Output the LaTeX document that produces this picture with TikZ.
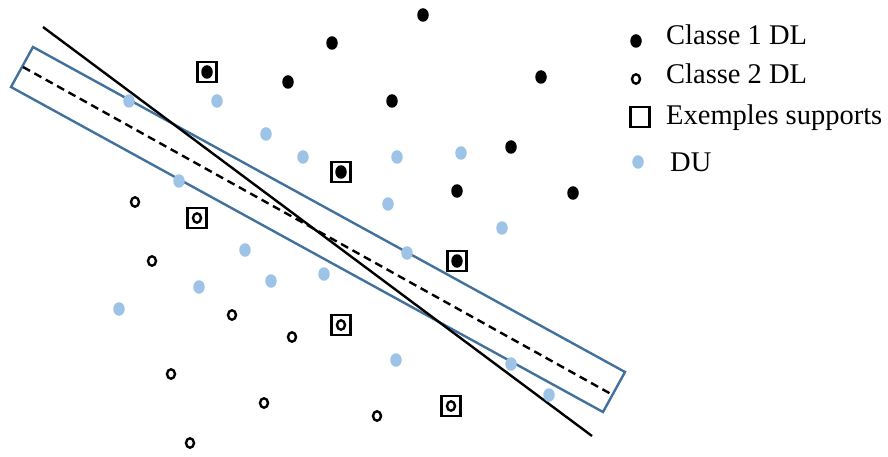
\documentclass[tikz,border=0pt]{standalone}
\usepackage{fontspec}
\setmainfont{Liberation Serif}
\usetikzlibrary{shapes.geometric}
\definecolor{bandblue}{RGB}{65,113,156}
\definecolor{dublue}{RGB}{157,195,230}
\begin{document}
\begin{tikzpicture}[x=1pt,y=-1pt,
  cone/.style={ellipse,fill=black,inner sep=0pt,minimum width=11.5pt,minimum height=13.5pt},
  ctwo/.style={ellipse,draw=black,line width=2.4pt,inner sep=0pt,minimum width=8pt,minimum height=9.5pt},
  cdu/.style={ellipse,fill=dublue,inner sep=0pt,minimum width=11.5pt,minimum height=13.5pt},
  supbox/.style={rectangle,draw=black,line width=2.6pt,inner sep=0pt,minimum width=19.5pt,minimum height=20pt},
  legtext/.style={anchor=west,inner sep=0pt,font=\fontsize{28.5}{34}\selectfont}]
\useasboundingbox (0,0) rectangle (888,457);
% band
\coordinate (r1) at (33,47);
\coordinate (r2) at (625,372);
\coordinate (r3) at (603,412);
\coordinate (r4) at (11,87);
\draw[bandblue,line width=2.4pt,line join=miter] (r1) -- (r2) -- (r3) -- (r4) -- cycle;
% dashed hyperplane
\coordinate (h1) at (23,67);
\coordinate (h2) at (611,394);
\draw[black,line width=2.4pt,dash pattern=on 8pt off 5pt] (h1) -- (h2);
% solid line
\coordinate (s1) at (43,27);
\coordinate (s2) at (592,436);
\draw[black,line width=2.4pt] (s1) -- (s2);
% DU points
\foreach \n/\x/\y in {u1/129/101,u2/217/101,u3/266/134,u4/303/157,u5/397/157,u6/461/153,u7/179/181,u8/388/204,u9/502/228,u10/245/250,u11/407/253,u12/199/287,u13/271/281,u14/324/274,u15/119/309,u16/396/360,u17/511/364,u18/549/395}
  \node[cdu] (\n) at (\x,\y) {};
% class 1
\foreach \n/\x/\y in {a1/423/15,a2/332/43,a3/288/82,a4/392/101,a5/541/77,a6/511/147,a7/457/191,a8/573/193,a9/207/72,a10/341/172,a11/457/261}
  \node[cone] (\n) at (\x,\y) {};
% class 2
\foreach \n/\x/\y in {b1/135/202,b2/152/261,b3/232/315,b4/292/337,b5/171/374,b6/264/403,b7/377/416,b8/190/443,b9/197/218,b10/341/325,b11/451/406}
  \node[ctwo] (\n) at (\x,\y) {};
% support boxes
\foreach \n/\x/\y in {sv1/207/72,sv2/341/172,sv3/457/261,sv4/197/218,sv5/341/325,sv6/451/406}
  \node[supbox] (\n) at (\x,\y) {};
% legend
\node[cone] (l1) at (636,41) {};
\node[legtext] (t1) at (666,35) {Classe 1 DL};
\node[ctwo] (l2) at (636,79) {};
\node[legtext] (t2) at (666,74) {Classe 2 DL};
\node[supbox] (l3) at (640,117) {};
\node[legtext] (t3) at (666,118) {Exemples supports};
\node[cdu] (l4) at (638,162) {};
\node[legtext] (t4) at (670,162) {DU};
\end{tikzpicture}
\end{document}
